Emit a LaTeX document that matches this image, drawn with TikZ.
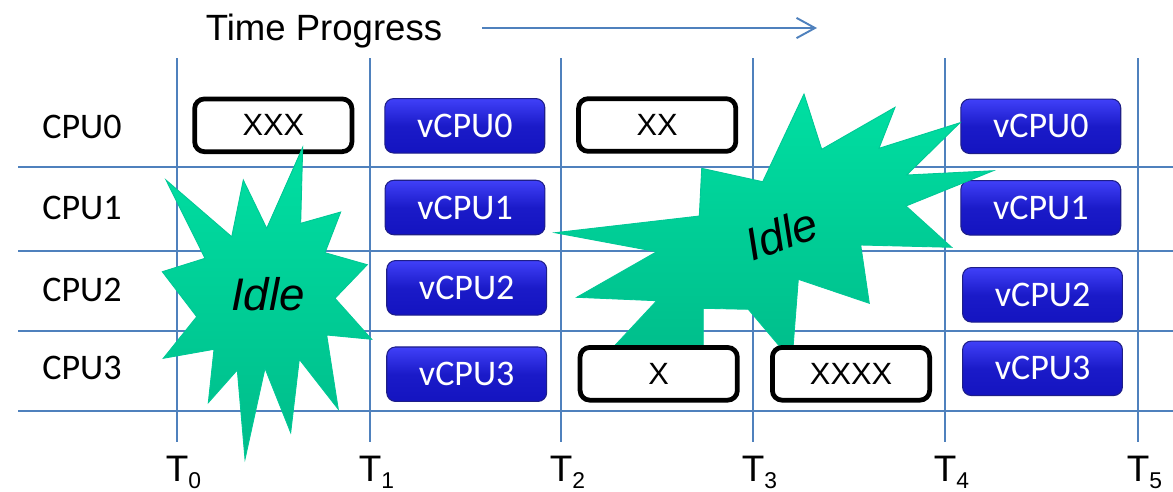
\documentclass[tikz,border=0pt]{standalone}
\usepackage{fontspec}
\setmainfont{Liberation Sans}
\newfontfamily\calibri{Carlito}
\usetikzlibrary{arrows.meta}
\definecolor{gridblue}{HTML}{4F81BD}
\definecolor{startop}{HTML}{00DFA2}
\definecolor{starbot}{HTML}{00BC8A}
\definecolor{stardraw}{HTML}{00C896}
\definecolor{vtop}{HTML}{4040F8}
\definecolor{vbot}{HTML}{1414C0}
\definecolor{vdraw}{HTML}{1E1E88}
\tikzset{
  gridv/.style={draw=gridblue, line width=1.1pt},
  gridh/.style={draw=gridblue, line width=1.6pt},
  taskbox/.style={draw=black, line width=2.7pt, rounded corners=5.5pt, fill=white,
    minimum width=89.5pt, minimum height=30pt, inner sep=0pt,
    font=\fontsize{17.5pt}{19pt}\selectfont},
  vbox/.style={draw=vdraw, line width=0.6pt, rounded corners=5pt,
    top color=vtop, bottom color=vbot, middle color=vbot!85!vtop,
    minimum width=91pt, minimum height=31pt, inner sep=0pt, text=white,
    font=\calibri\fontsize{20.5pt}{23pt}\selectfont},
  cpulabel/.style={inner sep=0pt, font=\calibri\fontsize{20.5pt}{23pt}\selectfont},
  tlabel/.style={inner sep=0pt, anchor=base west, font=\fontsize{21pt}{24pt}\selectfont},
  starshape/.style={top color=startop, bottom color=starbot, draw=stardraw, line width=0.5pt},
  idletext/.style={inner sep=0pt, font=\itshape\fontsize{26pt}{28pt}\selectfont},
}
\newcommand{\tsub}[1]{T\raisebox{-4.3pt}{\fontsize{13pt}{14pt}\selectfont #1}}
\begin{document}
\begin{tikzpicture}[x=0.02cm, y=-0.02cm]
\useasboundingbox (0,0) rectangle (1173,491);
% title and arrow
\node[inner sep=0pt, anchor=base, font=\fontsize{20.8pt}{23pt}\selectfont] (title) at (324,40.7) {Time Progress};
\coordinate (arrS) at (482,28);
\coordinate (arrE) at (817,28);
\draw[draw=gridblue, line width=1.1pt, -{Straight Barb[length=10.5pt, width=11.5pt, line width=1.1pt]}] (arrS) -- (arrE);
% grid
\foreach \x/\n in {177/0,370/1,561/2,753/3,945/4,1138/5}{
  \coordinate (vt\n) at (\x,58);
  \coordinate (vb\n) at (\x,442);
  \draw[gridv] (vt\n) -- (vb\n);
}
\foreach \y/\n in {167/1,251/2,331/3,411/4}{
  \coordinate (hl\n) at (18,\y);
  \coordinate (hr\n) at (1173,\y);
  \draw[gridh] (hl\n) -- (hr\n);
}
% CPU labels
\node[cpulabel] (cpu0) at (82,126.5) {CPU0};
\node[cpulabel] (cpu1) at (82,208) {CPU1};
\node[cpulabel] (cpu2) at (82,290) {CPU2};
\node[cpulabel] (cpu3) at (82,368) {CPU3};
% time labels
\foreach \x/\n in {177/0,370/1,561/2,753/3,945/4,1138/5}{
  \node[tlabel] (t\n) at (\x-11.5,481) {\tsub{\n}};
}
% boxes (behind stars)
\node[taskbox] (xxx) at (273.3,125.3) {XXX};
\node[taskbox] (xx) at (657.2,125) {XX};
\node[vbox] (v0a) at (464.8,125.8) {vCPU0};
\node[vbox] (v1a) at (465,207.5) {vCPU1};
\node[vbox] (v2a) at (466.7,287.8) {vCPU2};
\node[vbox] (v3a) at (466.7,374.2) {vCPU3};
\node[vbox] (v0b) at (1040.8,126.3) {vCPU0};
\node[vbox] (v1b) at (1040.8,207.8) {vCPU1};
\node[vbox] (v2b) at (1042.5,294.8) {vCPU2};
\node[vbox] (v3b) at (1042.5,368.3) {vCPU3};
% left star
\path[starshape] (302.7,147.3) -- (300.7,223.3) -- (340.7,212) -- (325,252.7) -- (367.3,264.7)
  -- (335,298.3) -- (371.7,339.3) -- (326.7,335) -- (338.3,409.3) -- (299.3,359.3)
  -- (290.7,432.7) -- (265,368.3) -- (245,459.3) -- (237.3,370) -- (208.3,402.7)
  -- (214,349.3) -- (163.3,358.3) -- (196.7,316.7) -- (162.3,271.7) -- (205,258.3)
  -- (166,180) -- (231.7,236.7) -- (243.3,180) -- (266.7,228.3) -- cycle;
\node[idletext] (idle1) at (268,294) {Idle};
% right star
\path[starshape] (804,94) -- (821.7,149.3) -- (895,107.3) -- (879,148.3) -- (960,122.7)
  -- (906.7,175) -- (993.3,170.7) -- (906,206) -- (951.7,247.3) -- (860.7,245)
  -- (869.3,303.3) -- (798.3,279.3) -- (792,361) -- (748.3,309.3) -- (703.3,308.3)
  -- (703.3,370) -- (592,370) -- (656.7,300.7) -- (576.7,297.3) -- (656.7,251.7)
  -- (555,232.7) -- (699.3,216) -- (701.7,168.3) -- (762.7,181.7) -- cycle;
\node[idletext, rotate=20] (idle2) at (781.5,234) {Idle};
% boxes in front of right star
\node[taskbox] (x1) at (658.7,373.8) {X};
\node[taskbox] (xxxx) at (851,373.8) {XXXX};
\end{tikzpicture}
\end{document}
